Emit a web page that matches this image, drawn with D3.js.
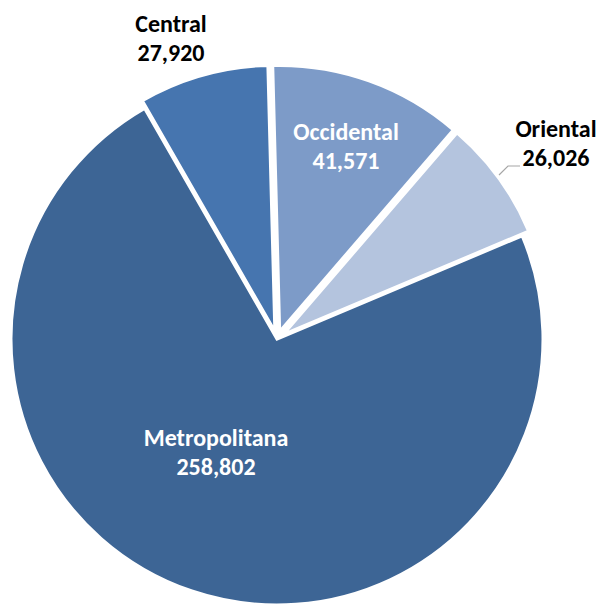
<!DOCTYPE html>
<html>
<head>
<meta charset="utf-8">
<script src="https://cdn.jsdelivr.net/npm/d3@7"></script>
<style>
  html, body { margin: 0; padding: 0; background: #ffffff; }
  svg { display: block; }
  text { font-family: Carlito, Calibri, Lato, "Open Sans", sans-serif; font-weight: bold; }
</style>
</head>
<body>
<svg id="chart" width="602" height="606"></svg>
<script>
const categories = ["Occidental", "Oriental", "Metropolitana", "Central"];
const values = [41571, 26026, 258802, 27920];
const valueLabels = ["41,571", "26,026", "258,802", "27,920"];
const colors = ["#7d9bc8", "#b4c4de", "#3d6595", "#4675af"];
const explode = [8, 8, 0, 8];
const labelColors = ["#ffffff", "#000000", "#ffffff", "#000000"];
// label anchor positions (center x, first-line baseline y)
const labelPos = [[346, 140], [556, 137], [216, 446], [171, 32]];

const svg = d3.select("#chart");
const cx = 277, cy = 339, R = 266;
const a0 = -1.5 * Math.PI / 180;

const pie = d3.pie().sort(null).value(d => d).startAngle(a0).endAngle(a0 + 2 * Math.PI);
const arcs = pie(values);
const arc = d3.arc().innerRadius(0).outerRadius(R);

const g = svg.append("g").attr("transform", `translate(${cx},${cy})`);

g.selectAll("path.slice")
  .data(arcs)
  .join("path")
  .attr("class", "slice")
  .attr("d", arc)
  .attr("fill", (d, i) => colors[i])
  .attr("stroke", "#ffffff")
  .attr("stroke-width", 3)
  .attr("stroke-linejoin", "miter")
  .attr("transform", (d, i) => {
    const m = (d.startAngle + d.endAngle) / 2;
    return `translate(${explode[i] * Math.sin(m)},${-explode[i] * Math.cos(m)})`;
  });

// leader line for Oriental
svg.append("polyline")
  .attr("points", [[499, 175], [508, 166], [520, 166]].map(p => p.join(",")).join(" "))
  .attr("fill", "none")
  .attr("stroke", "#a6a6a6")
  .attr("stroke-width", 1.2);

const lab = svg.selectAll("g.lab")
  .data(arcs)
  .join("g")
  .attr("class", "lab");

lab.append("text")
  .attr("x", (d, i) => labelPos[i][0])
  .attr("y", (d, i) => labelPos[i][1])
  .attr("text-anchor", "middle")
  .attr("font-size", 24)
  .attr("fill", (d, i) => labelColors[i])
  .text((d, i) => categories[i]);

lab.append("text")
  .attr("x", (d, i) => labelPos[i][0])
  .attr("y", (d, i) => labelPos[i][1] + 29)
  .attr("text-anchor", "middle")
  .attr("font-size", 24)
  .attr("fill", (d, i) => labelColors[i])
  .text((d, i) => valueLabels[i]);
</script>
</body>
</html>
